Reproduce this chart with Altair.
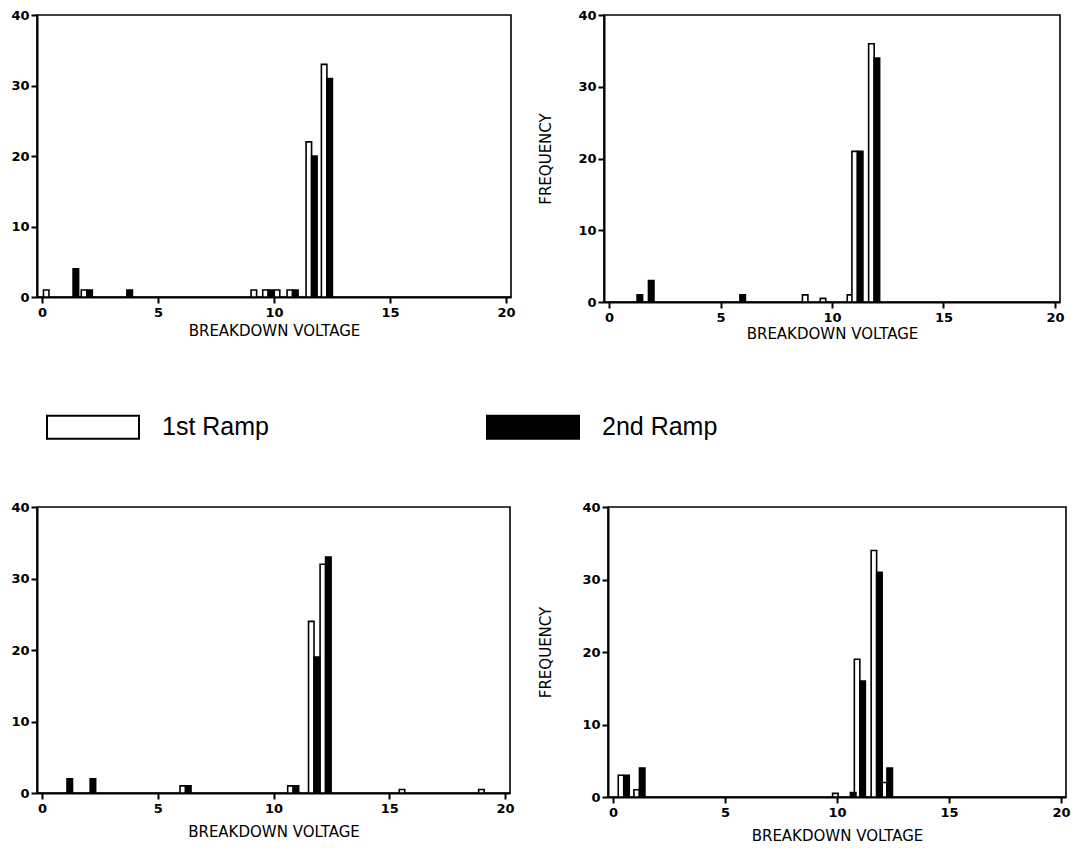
import altair as alt
import pandas as pd

ramps = ["1st Ramp", "2nd Ramp"]
x_ticks = [0, 5, 10, 15, 20]
y_ticks = [0, 10, 20, 30, 40]

# Panel A (top-left)
a_volt = [0.3, 1.34, 1.93, 3.66, 9.25, 9.75, 10.25, 10.8, 11.62, 12.28]
a_first = [1, 0, 1, 0, 1, 1, 1, 1, 22, 33]
a_second = [0, 4, 1, 1, 0, 1, 0, 1, 20, 31]

# Panel B (top-right)
b_volt = [1.26, 1.77, 5.87, 8.92, 9.72, 10.93, 11.14, 11.89]
b_first = [0, 0, 0, 1, 0.5, 1, 21, 36]
b_second = [1, 3, 1, 0, 0, 0, 21, 34]

# Panel C (bottom-left)
c_volt = [1.08, 2.08, 6.2, 10.85, 11.75, 12.25, 15.67, 19.1]
c_first = [0, 0, 1, 1, 24, 32, 0.5, 0.5]
c_second = [2, 2, 1, 1, 19, 33, 0, 0]

# Panel D (bottom-right)
d_volt = [0.48, 1.18, 10.05, 10.6, 11.02, 11.77, 12.23]
d_first = [3, 1, 0.5, 0, 19, 34, 2]
d_second = [3, 4, 0, 0.6, 16, 31, 4]


def long_table(volt, first, second):
    rows = []
    for v, f, s in zip(volt, first, second):
        rows.append({"voltage": v, "ramp": ramps[0], "freq": f})
        rows.append({"voltage": v, "ramp": ramps[1], "freq": s})
    return pd.DataFrame(rows)


fill_scale = alt.Scale(domain=ramps, range=["white", "black"])
legend = alt.Legend(
    orient="none", legendX=9, legendY=365, direction="horizontal", columns=2,
    title=None, symbolType="M-1,-0.25H1V0.25H-1Z", symbolSize=8464,
    symbolStrokeColor="black", symbolStrokeWidth=2, symbolOpacity=1,
    labelFont="Liberation Sans", labelFontSize=25, labelColor="black",
    labelOffset=22, columnPadding=214, padding=0, labelLimit=400,
)

BW = 5.5


def panel(volt, first, second, w, h, ytitle, ypad, xpad):
    df = long_table(volt, first, second)
    base = alt.Chart(df).transform_filter("datum.freq > 0")
    x = alt.X("voltage:Q", scale=alt.Scale(domain=[0, 20], nice=False, zero=False),
              axis=alt.Axis(values=x_ticks, title="BREAKDOWN VOLTAGE", titlePadding=xpad,
                            labelPadding=3))
    yaxis = dict(values=y_ticks, labelPadding=2)
    if ytitle:
        yaxis.update(title=ytitle, titlePadding=ypad)
    else:
        yaxis.update(title=None)
    y = alt.Y("freq:Q", scale=alt.Scale(domain=[0, 40], nice=False), axis=alt.Axis(**yaxis))
    fill = alt.Fill("ramp:N", scale=fill_scale, legend=legend)
    l1 = base.transform_filter(f"datum.ramp == '{ramps[0]}'").mark_bar(
        width=BW, xOffset=-BW / 2, stroke="black", strokeWidth=1.6
    ).encode(x=x, y=y, fill=fill)
    l2 = base.transform_filter(f"datum.ramp == '{ramps[1]}'").mark_bar(
        width=BW, xOffset=BW / 2, stroke="black", strokeWidth=1.6
    ).encode(x=x, y=y, fill=fill)
    return alt.layer(l1, l2).properties(width=w, height=h)


A = panel(a_volt, a_first, a_second, 474, 282, None, 0, 4)
B = panel(b_volt, b_first, b_second, 456, 287, "FREQUENCY", 24, 2)
C = panel(c_volt, c_first, c_second, 473, 286, None, 0, 9)
D = panel(d_volt, d_first, d_second, 458, 290, "FREQUENCY", 28, 9)

top = alt.hconcat(A, B, spacing=22)
bottom = alt.hconcat(C, D, spacing=23)

chart = alt.vconcat(top, bottom, spacing=158).resolve_scale(fill="shared").resolve_legend(fill="shared").properties(
    padding={"left": 10, "top": 8, "right": 5, "bottom": 5}
).configure_view(stroke="black", strokeWidth=1.6).configure_axis(
    domainColor="black", domainWidth=2, tickColor="black", tickWidth=2, tickSize=6,
    labelFont="DejaVu Sans", labelFontSize=13, labelFontWeight="bold", labelColor="black",
    titleFont="DejaVu Sans", titleFontSize=15, titleFontWeight="normal", titleColor="black",
    grid=False,
)

chart.save("out.html", embed_options={"renderer": "svg", "actions": False})
